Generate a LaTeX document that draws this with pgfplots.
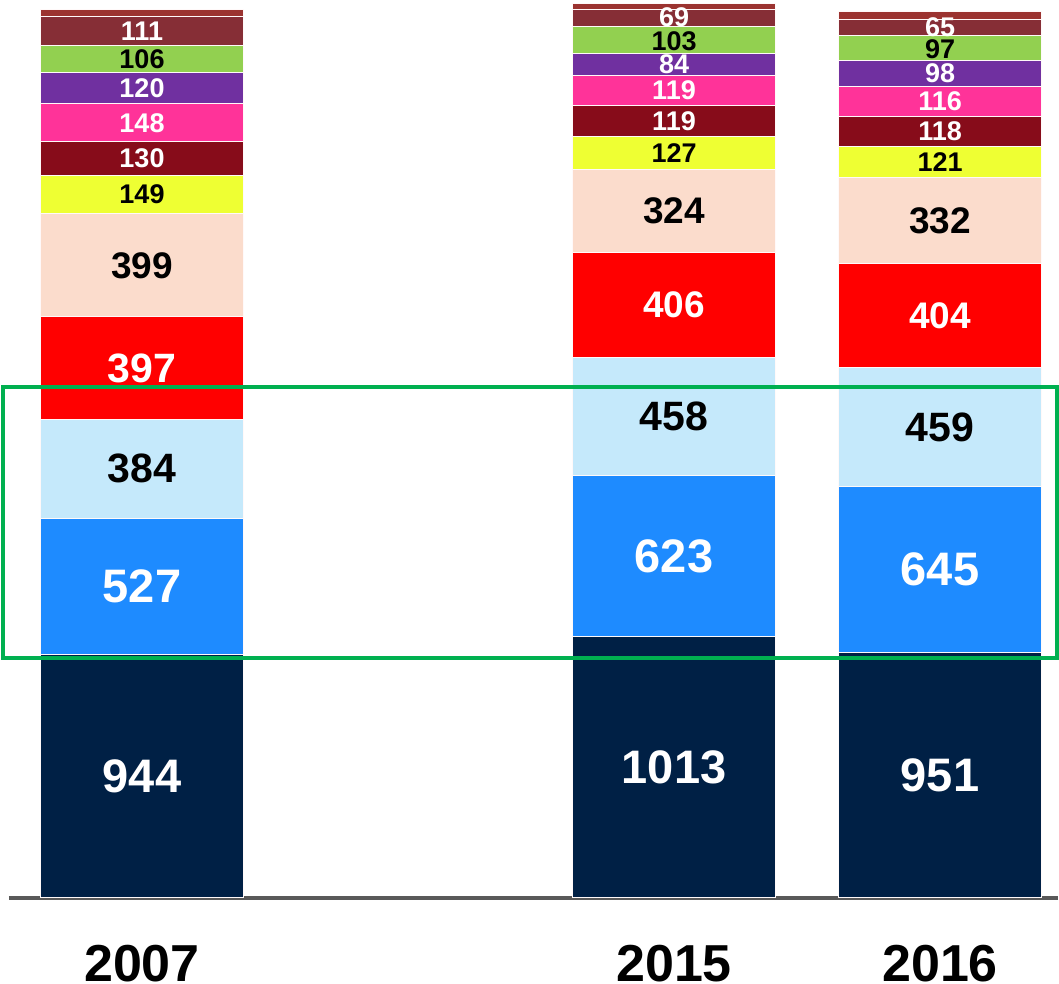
\documentclass[border=0pt]{standalone}
\usepackage{pgfplots}
\pgfplotsset{compat=1.18}
\usepackage{fontspec}
\setmainfont{Liberation Sans}
\definecolor{cNavy}{HTML}{002045}
\definecolor{cBlue}{HTML}{1E8BFF}
\definecolor{cLBlue}{HTML}{C5E9FB}
\definecolor{cRed}{HTML}{FF0000}
\definecolor{cPeach}{HTML}{FBDCCC}
\definecolor{cYellow}{HTML}{EEFF33}
\definecolor{cDRed}{HTML}{870C1A}
\definecolor{cPink}{HTML}{FF3399}
\definecolor{cPurple}{HTML}{7030A0}
\definecolor{cGreen}{HTML}{92D050}
\definecolor{cBrown}{HTML}{862E36}
\definecolor{cTop}{HTML}{9B3330}
\definecolor{axisgray}{HTML}{595959}
\definecolor{boxgreen}{HTML}{00B050}
\begin{document}
\begin{tikzpicture}
\pgfplotsset{myaxis/.style={scale only axis, width=524.7pt, height=449pt,
  xmin=-0.5, xmax=3.445, ymin=0, ymax=3480, at={(0,0)}, anchor=south west}}
\begin{axis}[myaxis, ybar stacked, bar width=0.765, clip=false,
  axis y line=none, axis x line*=bottom,
  axis line style={-, line width=2pt, color=axisgray},
  xtick={0,2,3}, xticklabels={2007,2015,2016}, major tick length=0pt,
  xticklabel style={font=\bfseries\fontsize{26}{26}\selectfont, inner sep=0pt, anchor=north, yshift=-23.5pt},
  seg/.style={draw=white!90!pink, line width=0.5pt, fill=#1}]
\addplot[seg=cNavy]   coordinates {(0,944) (2,1013) (3,951)};
\addplot[seg=cBlue]   coordinates {(0,527) (2,623) (3,645)};
\addplot[seg=cLBlue]  coordinates {(0,384) (2,458) (3,459)};
\addplot[seg=cRed]    coordinates {(0,397) (2,406) (3,404)};
\addplot[seg=cPeach]  coordinates {(0,399) (2,324) (3,332)};
\addplot[seg=cYellow] coordinates {(0,149) (2,127) (3,121)};
\addplot[seg=cDRed]   coordinates {(0,130) (2,119) (3,118)};
\addplot[seg=cPink]   coordinates {(0,148) (2,119) (3,116)};
\addplot[seg=cPurple] coordinates {(0,120) (2,84) (3,98)};
\addplot[seg=cGreen]  coordinates {(0,106) (2,103) (3,97)};
\addplot[seg=cBrown]  coordinates {(0,111) (2,69) (3,65)};
\addplot[seg=cTop]    coordinates {(0,30) (2,22) (3,30)};
\coordinate (gA) at (axis cs:-0.5226,930);
\coordinate (gB) at (axis cs:3.4398,1980);
\end{axis}
\begin{axis}[myaxis, hide axis, point meta=explicit symbolic,
  lab/.style 2 args={only marks, mark=*, mark size=0pt, mark options={draw=none, fill=none},
    nodes near coords, every node near coord/.append style={anchor=center, inner sep=0pt,
    text=#2, font=\bfseries\fontsize{#1}{#1}\selectfont}}]
\addplot[lab={23.5}{white}] table[meta=l] {
x y l
0 472 944
0 1207.5 527
2 506.5 1013
2 1324.5 623
3 475.5 951
3 1273.5 645
};
\addplot[lab={20.5}{black}] table[meta=l] {
x y l
0 1663 384
2 1865 458
3 1825.5 459
};
\addplot[lab={20.5}{white}] table[meta=l] {
x y l
0 2053.5 397
};
\addplot[lab={18.5}{black}] table[meta=l] {
x y l
0 2451.5 399
2 2662 324
3 2625 332
};
\addplot[lab={18.5}{white}] table[meta=l] {
x y l
2 2297 406
3 2257 404
};
\addplot[lab={13.5}{white}] table[meta=l] {
x y l
0 2865 130
0 3004 148
0 3138 120
0 3359.5 111
2 3010.5 119
2 3129.5 119
2 3231 84
2 3412 69
3 2971 118
3 3088 116
3 3195 98
3 3375 65
};
\addplot[lab={13.5}{black}] table[meta=l] {
x y l
0 2725.5 149
0 3251 106
2 2887.5 127
2 3322 103
3 2851.5 121
3 3290 97
};
\end{axis}
\draw[boxgreen, line width=2pt] (gA) rectangle (gB);
\pgfresetboundingbox
\path[use as bounding box] (-4.5pt,-43pt) rectangle (525pt,449pt);
\end{tikzpicture}
\end{document}
